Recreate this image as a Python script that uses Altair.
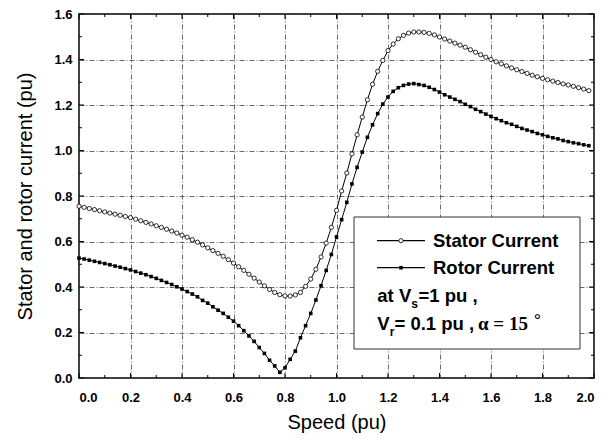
import altair as alt
import pandas as pd

# ---------------- data ----------------
speed = [round(0.02 * i, 2) for i in range(100)]

stator = [
    0.755, 0.750, 0.745, 0.740, 0.735, 0.730, 0.725, 0.720, 0.715, 0.710,
    0.705, 0.698, 0.691, 0.684, 0.677, 0.669, 0.662, 0.654, 0.646, 0.637,
    0.628, 0.619, 0.608, 0.597, 0.585, 0.572, 0.560, 0.548, 0.535, 0.520,
    0.505, 0.489, 0.473, 0.456, 0.439, 0.422, 0.405, 0.389, 0.376, 0.366,
    0.361, 0.360, 0.365, 0.376, 0.403, 0.435, 0.478, 0.532, 0.593, 0.662,
    0.737, 0.822, 0.901, 0.985, 1.069, 1.147, 1.223, 1.291, 1.348, 1.396,
    1.439, 1.468, 1.491, 1.506, 1.516, 1.521, 1.521, 1.519, 1.515, 1.508,
    1.499, 1.490, 1.481, 1.472, 1.463, 1.454, 1.443, 1.432, 1.421, 1.410,
    1.400, 1.390, 1.381, 1.372, 1.363, 1.355, 1.347, 1.339, 1.331, 1.324,
    1.317, 1.311, 1.305, 1.299, 1.293, 1.288, 1.282, 1.276, 1.270, 1.263,
]

rotor = [
    0.527, 0.523, 0.518, 0.513, 0.508, 0.503, 0.498, 0.492, 0.487, 0.481,
    0.475, 0.468, 0.461, 0.454, 0.446, 0.438, 0.429, 0.420, 0.411, 0.401,
    0.391, 0.380, 0.369, 0.357, 0.341, 0.329, 0.313, 0.298, 0.284, 0.267,
    0.250, 0.230, 0.208, 0.185, 0.161, 0.134, 0.108, 0.078, 0.053, 0.025,
    0.045, 0.082, 0.118, 0.177, 0.230, 0.284, 0.343, 0.406, 0.473, 0.543,
    0.620, 0.696, 0.772, 0.853, 0.926, 0.993, 1.058, 1.113, 1.162, 1.204,
    1.235, 1.260, 1.276, 1.286, 1.292, 1.294, 1.290, 1.286, 1.278, 1.268,
    1.257, 1.245, 1.235, 1.225, 1.215, 1.203, 1.193, 1.181, 1.171, 1.160,
    1.150, 1.140, 1.131, 1.122, 1.115, 1.106, 1.097, 1.090, 1.083, 1.075,
    1.069, 1.062, 1.056, 1.051, 1.044, 1.039, 1.034, 1.030, 1.025, 1.021,
]

series_names = ["Stator Current", "Rotor Current"]

x_major = [0.0, 0.2, 0.4, 0.6, 0.8, 1.0, 1.2, 1.4, 1.6, 1.8, 2.0]
x_minor = [0.1, 0.3, 0.5, 0.7, 0.9, 1.1, 1.3, 1.5, 1.7, 1.9]
y_major = [0.0, 0.2, 0.4, 0.6, 0.8, 1.0, 1.2, 1.4, 1.6]
y_minor = [0.1, 0.3, 0.5, 0.7, 0.9, 1.1, 1.3, 1.5]

x_title = "Speed (pu)"
y_title = "Stator and rotor current (pu)"
note_line1 = ["at V", "s", "=1 pu ,"]
note_line2 = ["V", "r", "= 0.1 pu ,", "\u03b1 = 15", "\u00b0"]

# ---------------- layout constants ----------------
W, H = 515, 364
SANS = "Liberation Sans"
SERIF = "Liberation Serif"

df = pd.DataFrame({
    "speed": speed * 2,
    "current": stator + rotor,
    "series": [series_names[0]] * len(stator) + [series_names[1]] * len(rotor),
})

xscale = alt.Scale(domain=[0, 2], nice=False, zero=False)
yscale = alt.Scale(domain=[0, 1.6], nice=False, zero=False)

x_axis = alt.Axis(
    values=x_major, format=".1f", title=x_title,
    labelFont=SANS, labelFontSize=13, labelFontWeight="bold", labelColor="black",
    labelBaseline="alphabetic", labelPadding=23,
    ticks=False, tickSize=0, domain=False,
    grid=True, gridColor="#444444", gridDash=[5, 2, 1, 2], gridWidth=0.8,
    titleFont=SANS, titleFontSize=20, titleFontWeight="normal", titleColor="black",
    titleBaseline="alphabetic", titleY=50, titleX=W / 2,
)
y_axis = alt.Axis(
    values=y_major, format=".1f", title=y_title,
    labelFont=SANS, labelFontSize=13, labelFontWeight="bold", labelColor="black",
    labelPadding=7,
    ticks=False, tickSize=0, domain=False,
    grid=True, gridColor="#444444", gridDash=[5, 2, 1, 2], gridWidth=0.8,
    titleFont=SANS, titleFontSize=20, titleFontWeight="normal", titleColor="black",
    titleBaseline="alphabetic", titleX=-48, titleY=H / 2, titleAngle=270,
)

X = alt.X("speed:Q", scale=xscale, axis=x_axis)
Y = alt.Y("current:Q", scale=yscale, axis=y_axis)

lines = alt.Chart(df).mark_line(color="black", strokeWidth=1).encode(
    x=X, y=Y, detail="series:N")

stator_pts = alt.Chart(df).transform_filter(
    alt.datum.series == series_names[0]
).mark_point(shape="circle", filled=True, fill="white", stroke="black",
             strokeWidth=0.8, size=18, opacity=1).encode(x=X, y=Y)

rotor_pts = alt.Chart(df).transform_filter(
    alt.datum.series == series_names[1]
).mark_point(shape="square", filled=True, color="black", size=13,
             opacity=1).encode(x=X, y=Y)


def xticks(vals, length):
    d = pd.DataFrame({"speed": vals})
    xs = alt.X("speed:Q", scale=xscale, axis=x_axis)
    bottom = alt.Chart(d).mark_rule(color="black", strokeWidth=1).encode(
        x=xs, y=alt.value(H), y2=alt.value(H - length))
    top = alt.Chart(d).mark_rule(color="black", strokeWidth=1).encode(
        x=xs, y=alt.value(0), y2=alt.value(length))
    return [bottom, top]


def yticks(vals, length):
    d = pd.DataFrame({"current": vals})
    ys = alt.Y("current:Q", scale=yscale, axis=y_axis)
    left = alt.Chart(d).mark_rule(color="black", strokeWidth=1).encode(
        y=ys, x=alt.value(0), x2=alt.value(length))
    right = alt.Chart(d).mark_rule(color="black", strokeWidth=1).encode(
        y=ys, x=alt.value(W), x2=alt.value(W - length))
    return [left, right]


tick_layers = xticks(x_major, 5) + xticks(x_minor, 3) + yticks(y_major, 5) + yticks(y_minor, 3)

# ---------------- legend box (decoration) ----------------
one = pd.DataFrame({"k": [0]})
box = alt.Chart(one).mark_rect(fill="white", stroke="#333333", strokeWidth=1).encode(
    x=alt.value(275), x2=alt.value(501), y=alt.value(203), y2=alt.value(335))

leg_line1 = alt.Chart(one).mark_rule(color="black", strokeWidth=1.2).encode(
    x=alt.value(298), x2=alt.value(346), y=alt.value(226.7))
leg_pt1 = alt.Chart(one).mark_point(shape="circle", filled=True, fill="white",
                                    stroke="black", strokeWidth=0.8, size=18,
                                    opacity=1).encode(x=alt.value(322), y=alt.value(226.7))
leg_line2 = alt.Chart(one).mark_rule(color="black", strokeWidth=1.2).encode(
    x=alt.value(298), x2=alt.value(346), y=alt.value(253.7))
leg_pt2 = alt.Chart(one).mark_point(shape="square", filled=True, color="black",
                                    size=13, opacity=1).encode(x=alt.value(322), y=alt.value(253.7))


def txt(s, x, y, size=18.5, font=SANS, weight="bold"):
    return alt.Chart(one).mark_text(align="left", baseline="alphabetic", font=font,
                                    fontSize=size, fontWeight=weight, color="black").encode(
        x=alt.value(x), y=alt.value(y), text=alt.value(s))


legend_layers = [
    box, leg_line1, leg_pt1, leg_line2, leg_pt2,
    txt(series_names[0], 354, 232.7),
    txt(series_names[1], 354, 260.3),
    txt(note_line1[0], 298.3, 287.7),
    txt(note_line1[1], 332.3, 293.5, size=12),
    txt(note_line1[2], 339.5, 287.7),
    txt(note_line2[0], 298.3, 316),
    txt(note_line2[1], 310.8, 321.5, size=12),
    txt(note_line2[2], 315.5, 316),
    txt(note_line2[3], 399, 316, size=19, font=SERIF),
    txt(note_line2[4], 455, 311, size=17, font=SERIF),
]

chart = alt.layer(
    lines, stator_pts, rotor_pts, *tick_layers, *legend_layers
).properties(
    width=W, height=H,
    background="white",
    autosize=alt.AutoSizeParams(type="none"),
    padding={"left": 71, "top": 6, "right": 8, "bottom": 58},
).configure_view(
    stroke="black", strokeWidth=1.5
)

chart.save("out.html", embed_options={"renderer": "svg", "actions": False})
